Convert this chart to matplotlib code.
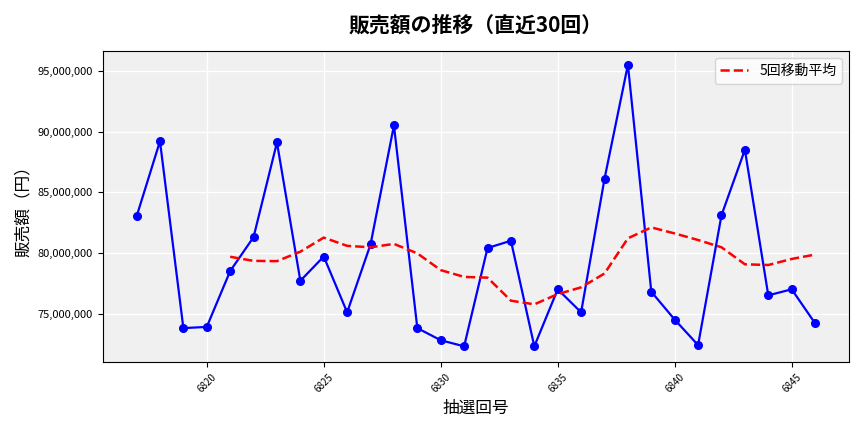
import numpy as np
import pandas as pd
import matplotlib
matplotlib.use("Agg")
import matplotlib.pyplot as plt
from matplotlib.ticker import FuncFormatter

plt.rcParams['font.family'] = ['Noto Sans CJK JP', 'DejaVu Sans']

draws = list(range(6817, 6847))
sales = [83.0, 89.2, 73.8, 73.9, 78.5, 81.3, 89.1, 77.7, 79.7, 75.1,
         80.7, 90.5, 73.8, 72.8, 72.3, 80.4, 81.0, 72.3, 77.0, 75.1,
         86.1, 95.5, 76.8, 74.5, 72.4, 83.1, 88.5, 76.5, 77.0, 74.2]
sales = [v * 1e6 for v in sales]
ma5 = pd.Series(sales).rolling(5).mean()

fig, ax = plt.subplots(figsize=(8.64, 4.32), dpi=100)
ax.set_facecolor('#f0f0f0')
ax.grid(True, color='white', linewidth=1)
ax.set_axisbelow(True)
ax.plot(draws, sales, color='blue', marker='o', markersize=5.5, linewidth=1.6)
ax.plot(draws, ma5, color='red', linestyle='--', linewidth=1.8, label='5回移動平均')
ax.set_title('販売額の推移（直近30回）', fontsize=15, fontweight='bold', pad=14)
ax.set_xlabel('抽選回号', fontsize=12)
ax.set_ylabel('販売額（円）', fontsize=12)
ax.yaxis.set_major_formatter(FuncFormatter(lambda v, p: f'{v:,.0f}'))
ax.set_xticks(range(6820, 6847, 5))
ax.tick_params(axis='x', labelrotation=45, labelsize=7)
ax.tick_params(axis='y', labelsize=8)
ax.set_ylim(71.0e6, 96.6e6)
ax.legend(loc='upper right', fontsize=10)
fig.tight_layout()
fig.savefig('out.png')
